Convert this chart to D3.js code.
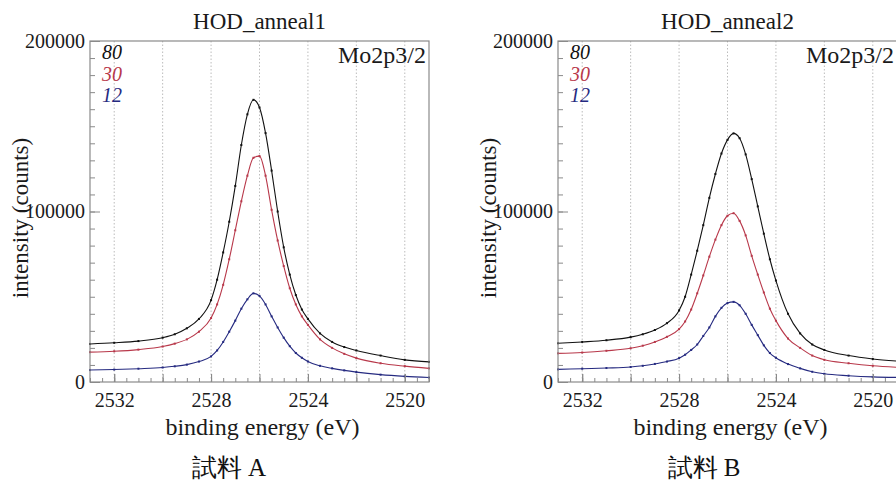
<!DOCTYPE html>
<html>
<head>
<meta charset="utf-8">
<script src="https://cdn.jsdelivr.net/npm/d3@7"></script>
<style>
  body { margin: 0; background: #fff; }
  text { font-family: "Liberation Serif", "Times New Roman", serif; }
</style>
</head>
<body>
<script>
// Mo2p3/2 spectra for two anneal runs, three curves each (80 / 30 / 12)

const energies = [2533, 2532, 2531, 2530, 2529.5, 2529, 2528.5, 2528, 2527.75, 2527.5,
  2527.25, 2527, 2526.75, 2526.5, 2526.25, 2526, 2525.75, 2525.5, 2525.25, 2525,
  2524.75, 2524.5, 2524.25, 2524, 2523.5, 2523, 2522.5, 2522, 2521, 2520, 2519];

const anneal1_80 = [22300, 23000, 24000, 26000, 28000, 31500, 37000, 48000, 60000, 76000,
  94000, 115000, 139000, 157000, 165500, 161000, 146000, 124000, 100000, 79000,
  63000, 51000, 42500, 37000, 28500, 23500, 20500, 18500, 15500, 13000, 11800];
const anneal1_30 = [17500, 18000, 19000, 20800, 22500, 25000, 29500, 37500, 45500, 57000,
  72000, 89000, 106000, 121000, 131500, 132500, 121000, 101000, 83000, 68000,
  55000, 45500, 38500, 33500, 25000, 20000, 16500, 14000, 11000, 9300, 8000];
const anneal1_12 = [7000, 7300, 7800, 8500, 9200, 10200, 12000, 15000, 18500, 23500,
  29500, 36000, 43000, 48500, 52000, 50500, 45500, 38500, 32000, 26000,
  21000, 17000, 14200, 12000, 9500, 8000, 6800, 5800, 4300, 3300, 2600];

const anneal2_80 = [22700, 23500, 24500, 26300, 28000, 30500, 34500, 42000, 50000, 63000,
  77000, 92000, 108000, 122000, 134000, 142000, 145800, 143000, 133500, 119000,
  103000, 87000, 72000, 59500, 40000, 28500, 22000, 18800, 15500, 13500, 12300];
const anneal2_30 = [16800, 17300, 18300, 19800, 21300, 23500, 26500, 31000, 35500, 42500,
  52000, 62500, 73500, 83500, 92000, 97500, 99000, 94500, 86000, 74000,
  63000, 52500, 43000, 36000, 25500, 20000, 15500, 13000, 11000, 9500, 8600];
const anneal2_12 = [7400, 7800, 8200, 8800, 9500, 10600, 12000, 14000, 16000, 18800,
  22000, 27000, 32000, 38500, 43500, 46300, 47000, 45000, 40000, 33500,
  27500, 21500, 17000, 14200, 10500, 8000, 6000, 4800, 3700, 3000, 2700];

const seriesLabels = ["80", "30", "12"];
const seriesColors = ["#111111", "#b8384a", "#252a80"];
const panelTitles = ["HOD_anneal1", "HOD_anneal2"];
const sampleLabels = ["試料 A", "試料 B"];
const peakLabel = "Mo2p3/2";

const xDomain = [2533, 2519];
const yDomain = [0, 200000];
const xLabelTicks = [2532, 2528, 2524, 2520];
const xGridTicks = [2532, 2530, 2528, 2526, 2524, 2522, 2520];
const yLabelTicks = [0, 100000, 200000];

let svg = null;
let width = 339, height = 341;
let x, y;

const panels = [
  {left: 90, top: 41, title: panelTitles[0], sample: sampleLabels[0], sampleX: 229,
   series: [anneal1_80, anneal1_30, anneal1_12]},
  {left: 558, top: 41, title: panelTitles[1], sample: sampleLabels[1], sampleX: 704,
   series: [anneal2_80, anneal2_30, anneal2_12]}
];

appendSvg("body");
setupScales();
panels.forEach(drawPanel);

function appendSvg(domElement) {
  svg = d3.select(domElement).append("svg")
    .attr("width", 896)
    .attr("height", 480)
    .style("background", "#fff");
}

function setupScales() {
  x = d3.scaleLinear().domain(xDomain).range([0, width]);
  y = d3.scaleLinear().domain(yDomain).range([height, 0]);
}

function drawPanel(p) {
  const g = svg.append("g").attr("transform", `translate(${p.left}, ${p.top})`);

  // dotted vertical grid
  g.selectAll(".grid").data(xGridTicks).enter().append("line")
    .attr("x1", d => x(d)).attr("x2", d => x(d))
    .attr("y1", 0).attr("y2", height)
    .attr("stroke", "#bcbcbc")
    .attr("stroke-width", 1)
    .attr("stroke-dasharray", "1.5,2");

  // curves
  const line = d3.line()
    .x((d, i) => x(energies[i]))
    .y(d => y(d))
    .curve(d3.curveMonotoneX);

  p.series.forEach((vals, k) => {
    g.append("path")
      .datum(vals)
      .attr("d", line)
      .attr("fill", "none")
      .attr("stroke", seriesColors[k])
      .attr("stroke-width", 1.1);

    g.selectAll(".pt" + k).data(vals).enter().append("rect")
      .attr("x", (d, i) => x(energies[i]) - 1)
      .attr("y", d => y(d) - 1)
      .attr("width", 2).attr("height", 2)
      .attr("fill", seriesColors[k]);
  });

  // frame
  g.append("rect")
    .attr("width", width).attr("height", height)
    .attr("fill", "none")
    .attr("stroke", "#8a8a8a")
    .attr("stroke-width", 1.2);

  // y axis: minor + major ticks, inside
  const yMinor = g.append("g")
    .call(d3.axisLeft(y).tickValues(d3.range(0, 200001, 10000)).tickSize(-5).tickFormat(""));
  const yMajor = g.append("g")
    .call(d3.axisLeft(y).tickValues(yLabelTicks).tickSize(-10).tickPadding(5).tickFormat(d3.format("d")));

  // x axis: minor + major ticks, inside
  const xMinor = g.append("g").attr("transform", `translate(0, ${height})`)
    .call(d3.axisBottom(x).tickValues(d3.range(2519, 2533.01, 0.5)).tickSize(-4).tickFormat(""));
  const xMid = g.append("g").attr("transform", `translate(0, ${height})`)
    .call(d3.axisBottom(x).tickValues(xGridTicks).tickSize(-8).tickFormat(""));
  const xMajor = g.append("g").attr("transform", `translate(0, ${height})`)
    .call(d3.axisBottom(x).tickValues(xLabelTicks).tickSize(-8).tickPadding(11).tickFormat(d3.format("d")));

  [yMinor, yMajor, xMinor, xMid, xMajor].forEach(a => {
    a.select(".domain").remove();
    a.selectAll("line").attr("stroke", "#8a8a8a");
    a.selectAll("text")
      .style("font-family", "'Liberation Serif', serif")
      .style("font-size", "20px")
      .attr("fill", "#1a1a1a");
  });

  // titles
  g.append("text")
    .attr("x", width / 2).attr("y", -12)
    .attr("text-anchor", "middle")
    .style("font-size", "23px").attr("fill", "#1a1a1a")
    .text(p.title);

  g.append("text")
    .attr("x", width - 3).attr("y", 22)
    .attr("text-anchor", "end")
    .style("font-size", "24px").attr("fill", "#1a1a1a")
    .text(peakLabel);

  // legend
  seriesLabels.forEach((lab, k) => {
    g.append("text")
      .attr("x", 12).attr("y", 18 + k * 21.5)
      .style("font-size", "20px").style("font-style", "italic")
      .attr("fill", seriesColors[k])
      .text(lab);
  });

  // axis titles
  g.append("text")
    .attr("x", width / 2 + 3).attr("y", height + 53)
    .attr("text-anchor", "middle")
    .style("font-size", "24px").attr("fill", "#1a1a1a")
    .text("binding energy (eV)");

  g.append("text")
    .attr("transform", `translate(-62, ${177}) rotate(-90)`)
    .attr("text-anchor", "middle")
    .style("font-size", "23px").attr("fill", "#1a1a1a")
    .text("intensity (counts)");

  svg.append("text")
    .attr("x", p.sampleX).attr("y", 476)
    .attr("text-anchor", "middle")
    .style("font-size", "25px").attr("fill", "#111")
    .text(p.sample);
}
</script>
</body>
</html>
